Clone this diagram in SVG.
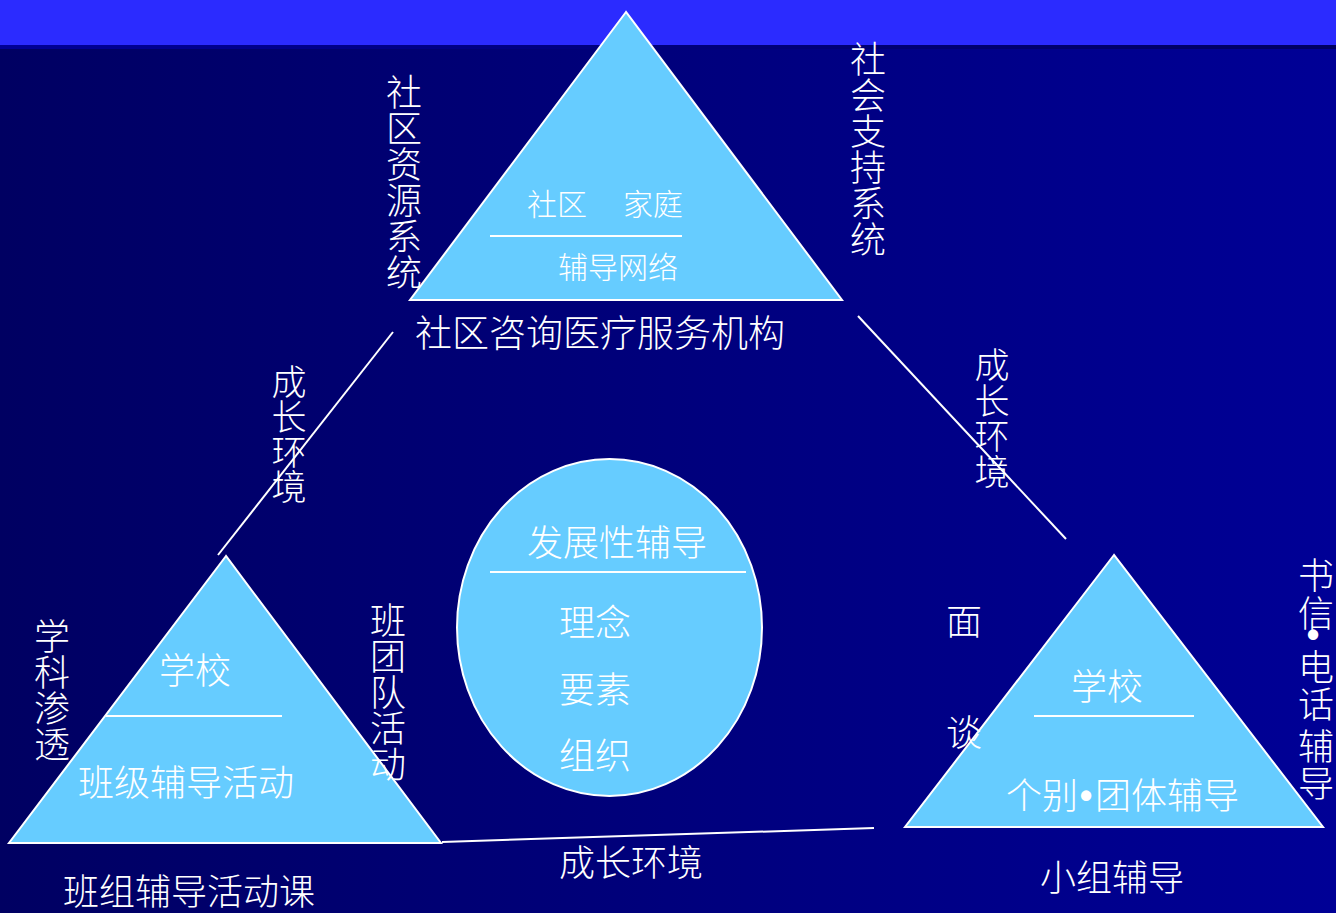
<svg xmlns="http://www.w3.org/2000/svg" width="1336" height="913" viewBox="0 0 1336 913">
<defs>
<linearGradient id="bg" x1="0" y1="0" x2="1" y2="0">
<stop offset="0" stop-color="#000062"/>
<stop offset="1" stop-color="#000096"/>
</linearGradient>
<linearGradient id="strip" x1="0" y1="0" x2="1" y2="0">
<stop offset="0" stop-color="#000096"/>
<stop offset="1" stop-color="#000062"/>
</linearGradient>
<style>
.shape{fill:#66CCFF;stroke:#FFFFFF;stroke-width:2}
.rule{stroke:#FFFFFF;stroke-width:2;fill:none}
.conn{stroke:#FFFFFF;stroke-width:2;fill:none}
.t{font-family:"Noto Sans CJK SC","Noto Sans",sans-serif;fill:#FFFFFF;font-size:36px;font-weight:300}
.s{font-size:30px}
.v{text-anchor:middle}
.b{font-family:"Liberation Sans",sans-serif;font-size:36px;font-weight:700;fill:#FFFFFF;text-anchor:middle}
</style>
</defs>
<rect x="0" y="0" width="1336" height="913" fill="url(#bg)"/>
<rect x="0" y="0" width="1336" height="45" fill="#2B2BFF"/>
<rect x="0" y="45" width="1336" height="4" fill="url(#strip)"/>

<g id="connectors">
<line class="conn" x1="393" y1="332" x2="218" y2="555"/>
<line class="conn" x1="858" y1="316" x2="1066" y2="539"/>
<line class="conn" x1="442" y1="842" x2="874" y2="828"/>
</g>

<g id="top-node">
<polygon class="shape" points="626,12 410,300 842,300"/>
<line class="rule" x1="490" y1="236" x2="682" y2="236"/>
<text class="t s" x="527" y="215">社区</text>
<text class="t s" x="623" y="215">家庭</text>
<text class="t s" x="558" y="278">辅导网络</text>
<text class="t" x="415" y="347" style="font-size:37px">社区咨询医疗服务机构</text>
</g>

<g id="top-left-label">
<text class="t v" x="404"><tspan x="404" y="106">社</tspan><tspan x="404" y="142">区</tspan><tspan x="404" y="178">资</tspan><tspan x="404" y="214">源</tspan><tspan x="404" y="250">系</tspan><tspan x="404" y="286">统</tspan></text>
</g>
<g id="top-right-label">
<text class="t v" x="868"><tspan x="868" y="73">社</tspan><tspan x="868" y="109">会</tspan><tspan x="868" y="145">支</tspan><tspan x="868" y="181">持</tspan><tspan x="868" y="217">系</tspan><tspan x="868" y="253">统</tspan></text>
</g>

<g id="edge-label-left">
<text class="t v" style="font-size:35px"><tspan x="289" y="395">成</tspan><tspan x="289" y="430">长</tspan><tspan x="289" y="465">环</tspan><tspan x="289" y="500">境</tspan></text>
</g>
<g id="edge-label-right">
<text class="t v" style="font-size:35px"><tspan x="992" y="378">成</tspan><tspan x="992" y="414">长</tspan><tspan x="992" y="449">环</tspan><tspan x="992" y="485">境</tspan></text>
</g>
<g id="edge-label-bottom">
<text class="t" x="559" y="876">成长环境</text>
</g>

<g id="center-node">
<ellipse class="shape" cx="609.5" cy="627.5" rx="152.5" ry="168.5"/>
<line class="rule" x1="490" y1="572" x2="746" y2="572"/>
<text class="t" x="527" y="556">发展性辅导</text>
<text class="t" x="559" y="636">理念</text>
<text class="t" x="559" y="703">要素</text>
<text class="t" x="559" y="769">组织</text>
</g>

<g id="left-node">
<polygon class="shape" points="226,556 9,843 441,843"/>
<line class="rule" x1="106" y1="716" x2="282" y2="716"/>
<text class="t" x="159" y="684">学校</text>
<text class="t" x="78" y="796">班级辅导活动</text>
<text class="t" x="63" y="905">班组辅导活动课</text>
</g>
<g id="left-node-label-left">
<text class="t v"><tspan x="52" y="650">学</tspan><tspan x="52" y="686">科</tspan><tspan x="52" y="722">渗</tspan><tspan x="52" y="758">透</tspan></text>
</g>
<g id="left-node-label-right">
<text class="t v"><tspan x="388" y="634">班</tspan><tspan x="388" y="670">团</tspan><tspan x="388" y="706">队</tspan><tspan x="388" y="742">活</tspan><tspan x="388" y="778">动</tspan></text>
</g>

<g id="right-node">
<polygon class="shape" points="1114,555 905,827 1323,827"/>
<line class="rule" x1="1034" y1="716" x2="1194" y2="716"/>
<text class="t" x="1071" y="700">学校</text>
<text class="t" y="809"><tspan x="1006">个别</tspan><tspan x="1095">团体辅导</tspan></text>
<text class="b" x="1086" y="808">•</text>
<text class="t" x="1040" y="891">小组辅导</text>
</g>
<g id="right-node-label-left">
<text class="t v"><tspan x="964" y="635">面</tspan><tspan x="964" y="746">谈</tspan></text>
</g>
<g id="right-node-label-right">
<text class="t v"><tspan x="1316" y="589">书</tspan><tspan x="1316" y="627">信</tspan><tspan x="1316" y="681">电</tspan><tspan x="1316" y="718">话</tspan><tspan x="1316" y="760">辅</tspan><tspan x="1316" y="797">导</tspan></text>
<text class="b" x="1313" y="647">•</text>
</g>
</svg>
